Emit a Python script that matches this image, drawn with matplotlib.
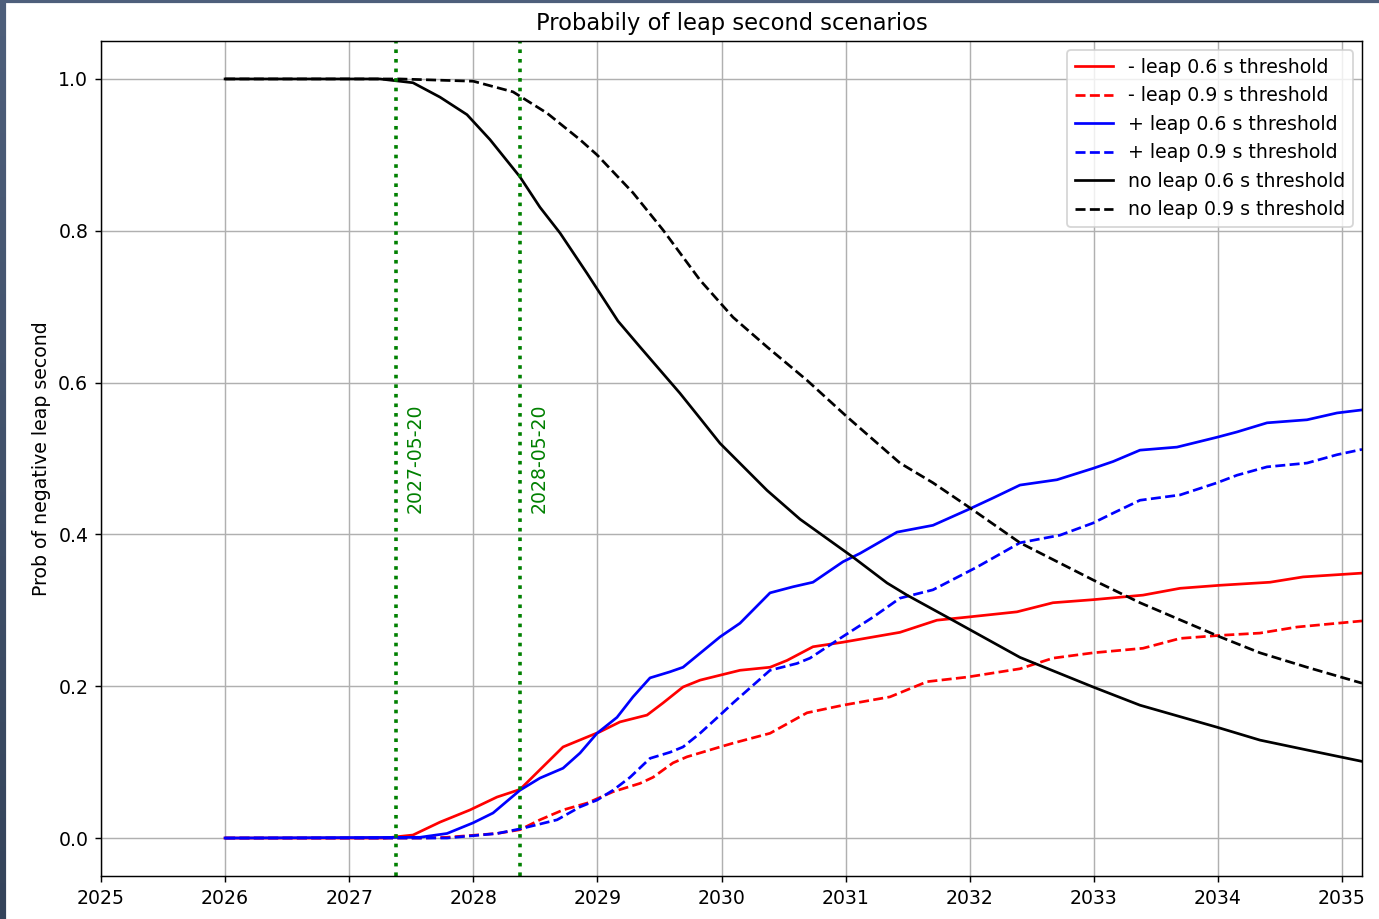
import numpy as np
import matplotlib
matplotlib.use("Agg")
import matplotlib.pyplot as plt
from matplotlib.patches import Rectangle

plt.rcParams["font.size"] = 10.45

# each scenario: decimal-year samples and probability values
neg_06_t = [2026.0, 2027.288, 2027.514, 2027.732, 2027.973, 2028.191, 2028.376,
            2028.537, 2028.723, 2028.916, 2029.021, 2029.182, 2029.4, 2029.529,
            2029.69, 2029.827, 2030.149, 2030.391, 2030.528, 2030.737, 2030.979,
            2031.438, 2031.736, 2031.978, 2032.381, 2032.671, 2032.994, 2033.396,
            2033.695, 2034.017, 2034.42, 2034.686, 2035.161]
neg_06 = [0, 0, 0.004, 0.021, 0.037, 0.054, 0.064,
          0.090, 0.120, 0.133, 0.140, 0.153, 0.162, 0.178,
          0.199, 0.208, 0.221, 0.225, 0.234, 0.252, 0.258,
          0.271, 0.287, 0.291, 0.298, 0.310, 0.314, 0.320,
          0.329, 0.333, 0.337, 0.344, 0.349]

neg_09_t = [2026.0, 2027.57, 2027.788, 2028.191, 2028.376, 2028.537, 2028.723,
            2028.916, 2029.126, 2029.343, 2029.448, 2029.609, 2029.722, 2029.988,
            2030.093, 2030.391, 2030.689, 2030.979, 2031.358, 2031.656, 2031.978,
            2032.405, 2032.671, 2032.994, 2033.396, 2033.695, 2034.017, 2034.339,
            2034.637, 2035.161]
neg_09 = [0, 0, 0.001, 0.006, 0.011, 0.024, 0.037,
          0.046, 0.061, 0.072, 0.080, 0.099, 0.107, 0.120,
          0.125, 0.138, 0.165, 0.175, 0.186, 0.206, 0.212,
          0.223, 0.237, 0.244, 0.250, 0.263, 0.267, 0.270,
          0.278, 0.286]

pos_06_t = [2026.0, 2027.57, 2027.788, 2027.998, 2028.159, 2028.376, 2028.537,
            2028.723, 2028.86, 2028.997, 2029.158, 2029.287, 2029.424, 2029.585,
            2029.69, 2029.988, 2030.149, 2030.391, 2030.576, 2030.737, 2030.979,
            2031.116, 2031.414, 2031.704, 2031.978, 2032.188, 2032.405, 2032.703,
            2032.994, 2033.155, 2033.372, 2033.67, 2033.993, 2034.154, 2034.396,
            2034.718, 2034.96, 2035.161]
pos_06 = [0, 0.001, 0.006, 0.020, 0.033, 0.063, 0.079,
          0.092, 0.112, 0.138, 0.159, 0.186, 0.211, 0.219,
          0.225, 0.265, 0.283, 0.323, 0.331, 0.337, 0.364,
          0.375, 0.403, 0.412, 0.432, 0.448, 0.465, 0.472,
          0.487, 0.496, 0.511, 0.515, 0.528, 0.535, 0.547,
          0.551, 0.560, 0.564]

pos_09_t = [2026.0, 2027.788, 2028.191, 2028.376, 2028.675, 2028.86, 2028.997,
            2029.126, 2029.263, 2029.424, 2029.585, 2029.69, 2029.827, 2029.988,
            2030.093, 2030.391, 2030.608, 2030.713, 2030.955, 2031.221, 2031.438,
            2031.704, 2032.059, 2032.405, 2032.728, 2032.994, 2033.155, 2033.372,
            2033.695, 2033.993, 2034.154, 2034.396, 2034.718, 2034.96, 2035.161]
pos_09 = [0, 0, 0.006, 0.012, 0.024, 0.041, 0.050,
          0.063, 0.080, 0.105, 0.113, 0.120, 0.138, 0.162,
          0.178, 0.221, 0.230, 0.237, 0.263, 0.291, 0.316,
          0.327, 0.357, 0.389, 0.399, 0.415, 0.428, 0.445,
          0.452, 0.468, 0.478, 0.489, 0.494, 0.505, 0.512]

none_06_t = [2026.0, 2027.248, 2027.514, 2027.732, 2027.949, 2028.135, 2028.376,
             2028.537, 2028.699, 2028.916, 2029.166, 2029.343, 2029.665, 2029.827,
             2029.988, 2030.367, 2030.633, 2031.06, 2031.334, 2031.495, 2031.841,
             2032.405, 2032.994, 2033.372, 2033.993, 2034.339, 2034.718, 2035.161]
none_06 = [1, 1, 0.995, 0.976, 0.953, 0.920, 0.871,
           0.831, 0.797, 0.744, 0.681, 0.647, 0.586, 0.553,
           0.520, 0.458, 0.420, 0.370, 0.336, 0.320, 0.289,
           0.238, 0.199, 0.175, 0.146, 0.129, 0.116, 0.101]

none_09_t = [2026.0, 2027.41, 2028.0, 2028.32, 2028.594, 2028.86, 2028.997,
             2029.287, 2029.529, 2029.827, 2030.093, 2030.367, 2030.689, 2031.011,
             2031.438, 2031.704, 2032.002, 2032.405, 2032.994, 2033.372, 2034.017,
             2034.339, 2034.718, 2035.161]
none_09 = [1, 1, 0.997, 0.983, 0.955, 0.920, 0.900,
           0.850, 0.801, 0.735, 0.686, 0.647, 0.603, 0.555,
           0.494, 0.468, 0.435, 0.389, 0.340, 0.310, 0.265,
           0.244, 0.225, 0.204]

# threshold crossing dates (decimal year) and their labels
event_x = [2027.38, 2028.38]
event_lbl = ["2027-05-20", "2028-05-20"]

dpi = 130
fig = plt.figure(figsize=(1379 / dpi, 919 / dpi), dpi=dpi)

# dark frame behind the white canvas
bg = fig.add_axes([0, 0, 1, 1], zorder=-10)
grad = np.linspace(0, 1, 256).reshape(-1, 1)
bg.imshow(grad, aspect="auto", extent=[0, 1, 0, 1], origin="lower",
          cmap=matplotlib.colors.LinearSegmentedColormap.from_list(
              "frame", ["#34435a", "#4e5f7b"]))
bg.add_patch(Rectangle((7 / 1379, 0), 1, 1 - 4 / 919, color="white"))
bg.set_xlim(0, 1)
bg.set_ylim(0, 1)
bg.axis("off")

ax = fig.add_axes([101 / 1379, 43 / 919, 1261 / 1379, 835 / 919])

ax.plot(neg_06_t, neg_06, "r-", label="- leap 0.6 s threshold")
ax.plot(neg_09_t, neg_09, "r--", label="- leap 0.9 s threshold")
ax.plot(pos_06_t, pos_06, "b-", label="+ leap 0.6 s threshold")
ax.plot(pos_09_t, pos_09, "b--", label="+ leap 0.9 s threshold")
ax.plot(none_06_t, none_06, "k-", label="no leap 0.6 s threshold")
ax.plot(none_09_t, none_09, "k--", label="no leap 0.9 s threshold")

for x, lbl in zip(event_x, event_lbl):
    ax.axvline(x, color="green", linestyle=":", linewidth=2)
    ax.text(x + 0.15, 0.5, lbl, rotation=90, color="green",
            ha="center", va="center")

ax.set_xlim(2025, none_06_t[-1])
ax.set_ylim(-0.05, 1.05)
ax.set_xticks(range(2025, 2036))
ax.set_xticklabels([str(y) for y in range(2025, 2036)])
ax.grid(True)
ax.set_title("Probabily of leap second scenarios")
ax.set_ylabel("Prob of negative leap second")
ax.legend(loc="upper right")

fig.savefig("out.png", dpi=dpi)
